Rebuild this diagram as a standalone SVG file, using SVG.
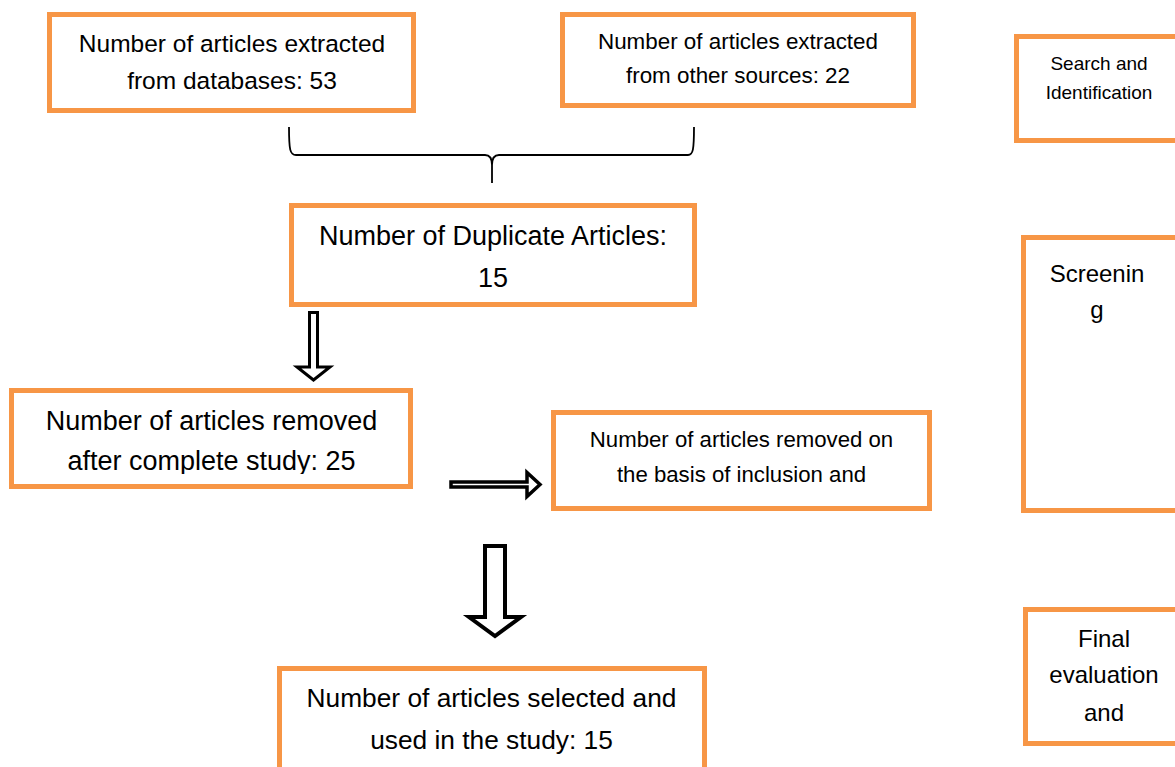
<svg xmlns="http://www.w3.org/2000/svg" width="1175" height="767" viewBox="0 0 1175 767">
<style>
.box{fill:#fff;stroke:#F79646;stroke-width:5}
.t{font-family:"Liberation Sans",Arial,sans-serif;fill:#000;text-anchor:middle}
.conn{fill:#fff;stroke:#000;stroke-linejoin:miter}
</style>
<defs>
<clipPath id="clipRemoved"><rect x="0" y="395" width="420" height="79"/></clipPath>
</defs>
<rect width="1175" height="767" fill="#fff"/>
<g id="connectors">
<path d="M289,127 C289,150 290,155 296,155 L485,155 C490,155 492,158 492,165 L492,183 M492,165 C492,158 494,155 499,155 L688,155 C693,155 694,150 694,127" fill="none" stroke="#000" stroke-width="1.8"/>
<polygon class="conn" stroke-width="3" points="309.5,312.5 317.5,312.5 317.5,367 330,367 313.5,380 297,367 309.5,367"/>
<polygon class="conn" stroke-width="3.5" points="451,482 527,482 527,472.5 540,484.5 527,496.5 527,487 451,487"/>
<polygon class="conn" stroke-width="4" points="485,546 505,546 505,617 521,617 495,636 469,617 485,617"/>
</g>
<g id="node-databases">
<rect class="box" x="49.5" y="14.5" width="364" height="96"/>
<text class="t" font-size="24.5" x="232" y="52">Number of articles extracted</text>
<text class="t" font-size="24.5" x="232" y="89">from databases: 53</text>
</g>
<g id="node-other-sources">
<rect class="box" x="562.5" y="14.5" width="351" height="91"/>
<text class="t" font-size="22.4" x="738" y="49">Number of articles extracted</text>
<text class="t" font-size="22.4" x="738" y="83">from other sources: 22</text>
</g>
<g id="node-duplicates">
<rect class="box" x="291.5" y="205.5" width="403" height="99"/>
<text class="t" font-size="27" x="493" y="245">Number of Duplicate Articles:</text>
<text class="t" font-size="27" x="493" y="287">15</text>
</g>
<g id="node-removed">
<rect class="box" x="11.5" y="390.5" width="399" height="96"/>
<g clip-path="url(#clipRemoved)">
<text class="t" font-size="27" x="211.5" y="430">Number of articles removed</text>
<text class="t" font-size="27" x="211.5" y="470">after complete study: 25</text>
</g>
</g>
<g id="node-inclusion">
<rect class="box" x="553.5" y="412.5" width="376" height="96"/>
<text class="t" font-size="22.2" x="741.5" y="447">Number of articles removed on</text>
<text class="t" font-size="22.2" x="741.5" y="482">the basis of inclusion and</text>
</g>
<g id="node-selected">
<rect class="box" x="279.5" y="668.5" width="425" height="130"/>
<text class="t" font-size="26.3" x="491.5" y="707">Number of articles selected and</text>
<text class="t" font-size="26.3" x="491.5" y="749">used in the study: 15</text>
</g>
<g id="node-search">
<rect class="box" x="1016.5" y="36.5" width="180" height="104"/>
<text class="t" font-size="19" x="1099" y="70">Search and</text>
<text class="t" font-size="19" x="1099" y="99">Identification</text>
</g>
<g id="node-screening">
<rect class="box" x="1023.5" y="237.5" width="180" height="273"/>
<text class="t" font-size="24" x="1097" y="282">Screenin</text>
<text class="t" font-size="24" x="1097" y="318">g</text>
</g>
<g id="node-final">
<rect class="box" x="1025.5" y="609.5" width="180" height="134"/>
<text class="t" font-size="24" x="1104" y="647">Final</text>
<text class="t" font-size="24" x="1104" y="683">evaluation</text>
<text class="t" font-size="24" x="1104" y="721">and</text>
</g>
</svg>
